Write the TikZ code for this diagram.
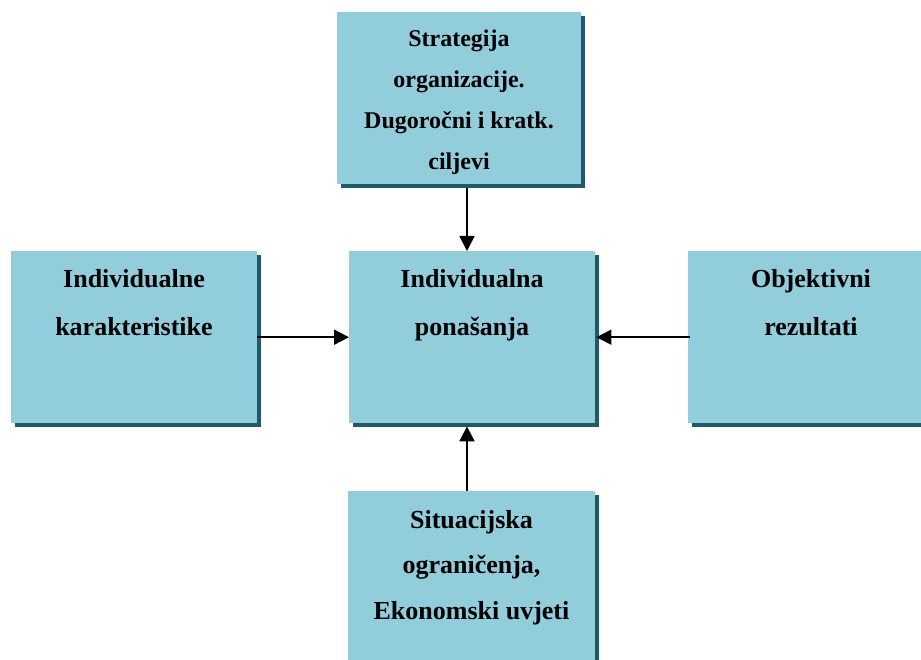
\documentclass[tikz,border=0pt]{standalone}
\usepackage{fontspec}
\setmainfont{Liberation Serif}
\usetikzlibrary{arrows.meta,shadows}
\definecolor{boxfill}{HTML}{92CDDC}
\definecolor{boxshadow}{HTML}{215968}
\begin{document}
\begin{tikzpicture}[x=1pt,y=-1pt,
  box/.style={fill=boxfill, draw=none, inner sep=0pt,
    drop shadow={shadow xshift=4pt, shadow yshift=-4pt, fill=boxshadow, opacity=1}},
  lbl/.style={inner sep=0pt, anchor=base, align=center, font=\fontsize{26}{48}\selectfont\bfseries},
  arr/.style={line width=1.8pt, -{Triangle[length=15pt,width=15pt]}}]
\useasboundingbox (0,0) rectangle (921,660);
\clip (0,0) rectangle (921,660);
% boxes
\node[box, minimum width=244pt, minimum height=172pt, anchor=north west] (top) at (337,12) {};
\node[box, minimum width=246pt, minimum height=172pt, anchor=north west] (left) at (11,251) {};
\node[box, minimum width=246pt, minimum height=172pt, anchor=north west] (center) at (349,251) {};
\node[box, minimum width=246pt, minimum height=172pt, anchor=north west] (right) at (688,251) {};
\node[box, minimum width=247pt, minimum height=175pt, anchor=north west] (bottom) at (348,491) {};
% labels (anchor = baseline of the last line)
\node[lbl, font=\fontsize{24}{41}\selectfont\bfseries] (ttop) at (459,170) {Strategija\\organizacije.\\Dugoročni i kratk.\\ciljevi};
\node[lbl] (tleft) at (134,336) {Individualne\\karakteristike};
\node[lbl] (tcenter) at (472,336) {Individualna\\ponašanja};
\node[lbl] (tright) at (811,336) {Objektivni\\rezultati};
\node[lbl, font=\fontsize{26}{45.5}\selectfont\bfseries] (tbottom) at (471.5,619) {Situacijska\\ograničenja,\\Ekonomski uvjeti};
% connectors
\coordinate (ax) at (467,0);
\draw[arr] ([yshift=-4pt]top.south -| ax) -- (center.north -| ax);
\draw[arr] (left.east) -- (center.west);
\draw[arr] ([xshift=2pt]right.west) -- ([xshift=1pt]center.east);
\draw[arr] (bottom.north -| ax) -- ([yshift=-3pt]center.south -| ax);
\end{tikzpicture}
\end{document}
